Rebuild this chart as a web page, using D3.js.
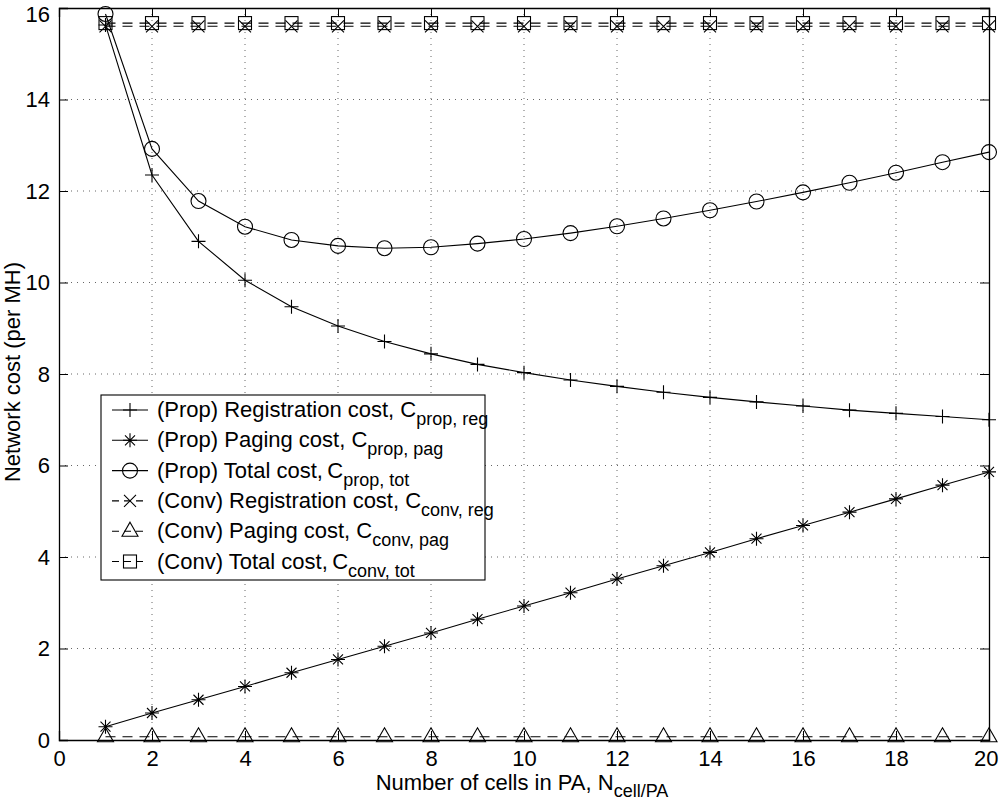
<!DOCTYPE html>
<html><head><meta charset="utf-8">
<script src="https://cdn.jsdelivr.net/npm/d3@7"></script>
<style>body{margin:0;background:#fff}svg{font-family:"Liberation Sans",Arial,sans-serif}</style>
</head><body><svg id="c" width="1000" height="801"></svg>
<script>
const cells = d3.range(1, 21);
const propReg = [15.63,12.35,10.9,10.05,9.47,9.05,8.71,8.44,8.21,8.03,7.87,7.73,7.6,7.49,7.39,7.3,7.21,7.14,7.07,7.0];
const propPag = [0.29,0.59,0.88,1.17,1.47,1.76,2.05,2.34,2.64,2.93,3.22,3.52,3.81,4.1,4.4,4.69,4.98,5.27,5.57,5.86];
const propTot = [15.87,12.92,11.78,11.22,10.93,10.8,10.75,10.77,10.85,10.95,11.08,11.23,11.4,11.58,11.77,11.97,12.18,12.4,12.63,12.85];
const convReg = Array(20).fill(15.6);
const convPag = Array(20).fill(0.07);
const convTot = Array(20).fill(15.67);
const xTicks = d3.range(0, 21, 2);
const yTicks = d3.range(0, 17, 2);
const series = [
  {name:"(Prop) Registration cost, C", sub:"prop, reg", vals:propReg, marker:"plus", dash:null},
  {name:"(Prop) Paging cost, C", sub:"prop, pag", vals:propPag, marker:"star", dash:null},
  {name:"(Prop) Total cost,\u2009C", sub:"prop, tot", vals:propTot, marker:"circle", dash:null},
  {name:"(Conv) Registration cost, C", sub:"conv, reg", vals:convReg, marker:"x", dash:"10,7"},
  {name:"(Conv) Paging cost, C", sub:"conv, pag", vals:convPag, marker:"tri", dash:"10,7"},
  {name:"(Conv) Total cost,\u2009C", sub:"conv, tot", vals:convTot, marker:"square", dash:"10,7"}
];

const FS = 22, SFS = 18;
const svg = d3.select("#c");
const L=59, R=989, T=8, B=740;
const x = d3.scaleLinear().domain([0,20]).range([L,R]);
const y = d3.scaleLinear().domain([0,16]).range([B,T]);

// grid
const g = svg.append("g");
g.selectAll(".vg").data(xTicks.slice(1,-1)).join("line")
  .attr("x1",d=>x(d)).attr("x2",d=>x(d)).attr("y1",T).attr("y2",B)
  .attr("stroke","#666").attr("stroke-width",1).attr("stroke-dasharray","1,5");
g.selectAll(".hg").data(yTicks.slice(1,-1)).join("line")
  .attr("y1",d=>y(d)).attr("y2",d=>y(d)).attr("x1",L).attr("x2",R)
  .attr("stroke","#666").attr("stroke-width",1).attr("stroke-dasharray","1,5");

// axes
const ax = svg.append("g").attr("transform",`translate(0,${B})`)
  .call(d3.axisBottom(x).tickValues(xTicks).tickSize(-9).tickPadding(10).tickFormat(d3.format("d")));
const axT = svg.append("g").attr("transform",`translate(0,${T})`)
  .call(d3.axisTop(x).tickValues(xTicks).tickSize(-9).tickFormat(""));
const ay = svg.append("g").attr("transform",`translate(${L},0)`)
  .call(d3.axisLeft(y).tickValues(yTicks).tickSize(-9).tickPadding(9).tickFormat(d3.format("d")));
const ayR = svg.append("g").attr("transform",`translate(${R},0)`)
  .call(d3.axisRight(y).tickValues(yTicks).tickSize(-9).tickFormat(""));
[ax,axT,ay,ayR].forEach(a=>{
  a.select(".domain").attr("stroke","#000").attr("stroke-width",1.3);
  a.selectAll(".tick line").attr("stroke","#000").attr("stroke-width",1);
  a.selectAll("text").attr("font-size",FS).attr("fill","#000").attr("font-family","Liberation Sans, Arial, sans-serif");
});
ay.selectAll(".tick text").filter(d=>d===16).attr("dy","0.6em");
ax.selectAll(".tick text").filter(d=>d===20).attr("dx","-0.15em");

function drawMarker(sel, type){
  const st = {fill:"none", stroke:"#000", "stroke-width":1.1};
  let m;
  if(type==="plus") m = sel.append("path").attr("d","M-7,0H7M0,-7V7");
  else if(type==="x") m = sel.append("path").attr("d","M-6,-6L6,6M-6,6L6,-6");
  else if(type==="star") m = sel.append("path").attr("d","M-7,0H7M0,-7V7M-5,-5L5,5M-5,5L5,-5");
  else if(type==="circle") m = sel.append("circle").attr("r",7.5);
  else if(type==="square") m = sel.append("rect").attr("x",-6.5).attr("y",-6.5).attr("width",13).attr("height",13);
  else if(type==="tri") m = sel.append("path").attr("d","M0,-9L8,5H-8Z");
  for(const k in st) m.attr(k, st[k]);
}

const line = d3.line().x((d,i)=>x(cells[i])).y(d=>y(d));
series.forEach(s=>{
  svg.append("path").datum(s.vals).attr("d",line).attr("fill","none")
    .attr("stroke","#000").attr("stroke-width",1.1)
    .attr("stroke-dasharray",s.dash);
  svg.append("g").selectAll("g").data(s.vals).join("g")
    .attr("transform",(d,i)=>`translate(${x(cells[i])},${y(d)})`)
    .each(function(){ drawMarker(d3.select(this), s.marker); });
});

// legend
const lg = svg.append("g");
lg.append("rect").attr("x",101).attr("y",395).attr("width",384).attr("height",185)
  .attr("fill","#fff").attr("stroke","#000").attr("stroke-width",1.1);
series.forEach((s,i)=>{
  const cy = 410 + i*30.3;
  lg.append("line").attr("x1",112).attr("x2",148).attr("y1",cy).attr("y2",cy)
    .attr("stroke","#000").attr("stroke-width",1.1).attr("stroke-dasharray",s.dash?"7,5":null);
  const mg = lg.append("g").attr("transform",`translate(130,${cy})`);
  drawMarker(mg, s.marker);
  const t = lg.append("text").attr("x",157).attr("y",cy+7).attr("font-size",FS).attr("fill","#000");
  t.append("tspan").text(s.name);
  t.append("tspan").attr("dy",8).attr("font-size",SFS).text(s.sub);
});

// axis labels
const xl = svg.append("text").attr("x",522).attr("y",790).attr("text-anchor","middle").attr("font-size",FS);
xl.append("tspan").text("Number of cells in PA, N");
xl.append("tspan").attr("dy",7).attr("font-size",SFS).text("cell/PA");
svg.append("text").attr("transform","translate(20,372) rotate(-90)").attr("text-anchor","middle")
  .attr("font-size",FS).text("Network cost (per MH)");
</script></body></html>
